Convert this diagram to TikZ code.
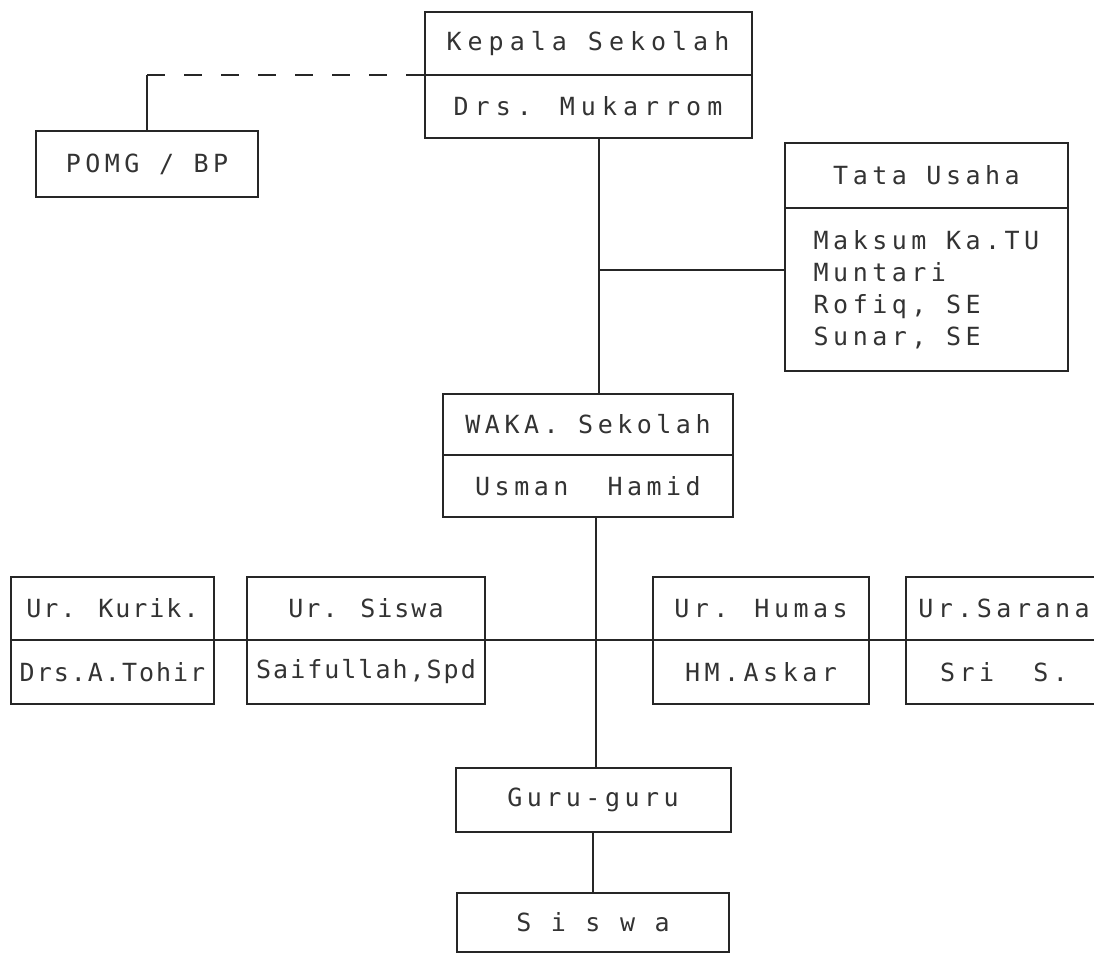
\documentclass[tikz,border=0pt]{standalone}
\usepackage{fontspec}
\usetikzlibrary{positioning}
\newfontfamily\dotfont{DejaVu Sans Mono}[LetterSpace=18]
\newcommand\dotsize{\fontsize{12.5pt}{16pt}\selectfont}

\tikzset{
  box/.style={draw=black!85, line width=1pt, outer sep=0pt, inner sep=0pt,
    text=black!80, font=\dotfont\dotsize, align=center, minimum height=31.5pt},
  narrow/.style={font=\dotfont\addfontfeatures{LetterSpace=8}\dotsize},
  wide/.style={font=\dotfont\addfontfeatures{LetterSpace=24}\dotsize},
  link/.style={draw=black!85, line width=1pt},
  dashlink/.style={link, dash pattern=on 9pt off 9.5pt},
}

\begin{document}
\begin{tikzpicture}[x=0.5pt, y=-0.5pt]
  \useasboundingbox (0,0) rectangle (1094,955);
  \clip (0,0) rectangle (1094,955);

  % Nodes
  \node[box, wide, minimum width=163.5pt] (kep) at (588,43.5) {Kepala Sekolah};
  \node[box, wide, minimum width=163.5pt, below=0pt of kep] (kepn) {Drs. Mukarrom};

  \node[box, minimum width=111pt, minimum height=33pt] (pomg) at (147,164) {POMG / BP};

  \node[box, minimum width=141.5pt, minimum height=32.5pt] (tu) at (926.5,175.5) {Tata Usaha};
  \node[box, align=left, minimum width=141.5pt, minimum height=81.5pt, below=0pt of tu] (tun)
    {Maksum Ka.TU\\Muntari\\Rofiq, SE\\Sunar, SE};

  \node[box, minimum width=145pt, minimum height=30.5pt, below=128pt of kepn] (waka) {WAKA. Sekolah};
  \node[box, minimum width=145pt, minimum height=31pt, below=0pt of waka] (wakan) {Usman\ \ Hamid};

  % Urusan
  \node[box, narrow, minimum width=101.5pt] (kur) at (112.5,608.5) {Ur. Kurik.};
  \node[box, narrow, minimum width=101.5pt, minimum height=32pt, below=0pt of kur] (kurn) {Drs.A.Tohir};
  \node[box, narrow, minimum width=119pt, right=16.5pt of kur] (usis) {Ur. Siswa};
  \node[box, narrow, minimum width=119pt, minimum height=32pt, below=0pt of usis] (usisn) {Saifullah,Spd};
  \node[box, minimum width=108pt, right=84pt of usis] (hum) {Ur. Humas};
  \node[box, minimum width=108pt, minimum height=32pt, below=0pt of hum] (humn) {HM.Askar};
  \node[box, minimum width=98pt, right=18.5pt of hum] (sar) {Ur.Sarana};
  \node[box, minimum width=98pt, minimum height=32pt, below=0pt of sar] (sarn) {Sri\ \ S.};

  \node[box, minimum width=137.5pt, minimum height=32pt, below=125.5pt of wakan, xshift=2.5pt] (guru) {Guru-guru};
  \node[box, minimum width=136pt, minimum height=29.5pt, below=30.5pt of guru] (sis) {S i s w a};

  % Connectors
  \draw[link] ([xshift=5.5pt]kepn.south) -- ([xshift=5.5pt]kepn.south |- waka.north);
  \coordinate (tujoin) at (599,270);
  \draw[link] (tujoin) -- (tujoin -| tun.west);
  \draw[link] ([xshift=4pt]wakan.south) -- ([xshift=4pt]wakan.south |- guru.north);
  \draw[link] (kurn.north west) -- (sarn.north east);
  \draw[link] (guru) -- (sis);
  \draw[link] (pomg.north) -- (pomg.north |- kep.south west) coordinate (pcorner);
  \draw[dashlink] (pcorner) -- (kep.south west);

\end{tikzpicture}
\end{document}
